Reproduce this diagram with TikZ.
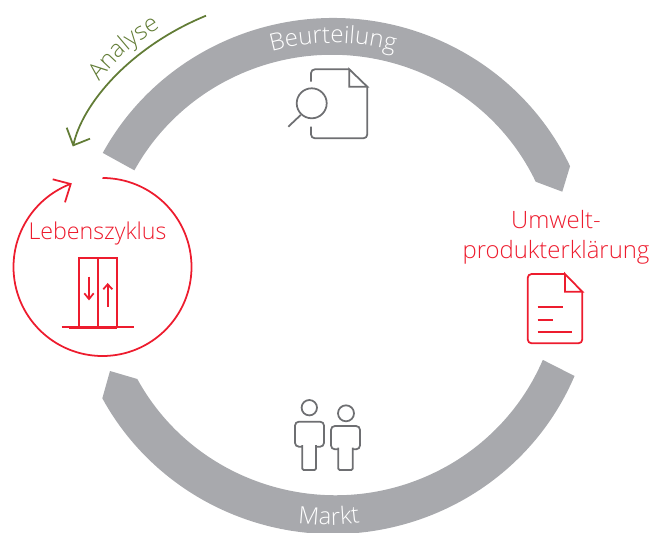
\documentclass[tikz,border=0pt]{standalone}
\usepackage{fontspec}
\setmainfont{Open Sans Light}
\usetikzlibrary{decorations.text}
\definecolor{ringgray}{RGB}{168,169,173}
\definecolor{iconred}{RGB}{237,28,46}
\definecolor{icongray}{RGB}{110,111,114}
\definecolor{leafgreen}{RGB}{98,124,54}
\tikzset{
  redline/.style={draw=iconred, line width=1pt},
  grayline/.style={draw=icongray, line width=1pt, rounded corners=2.2pt},
  redtext/.style={font=\fontsize{13.6}{17}\selectfont, text=iconred, align=center}
}
\begin{document}
\begin{tikzpicture}[x=0.02cm,y=0.02cm]
  \useasboundingbox (0,0) rectangle (649,532);
  \begin{scope}
    \clip (0,0) rectangle (649,532);
    % Upper ring segment
    \fill[ringgray] (333,256) ++(151.5:262 and 258) arc (151.5:25.2:262 and 258)
      -- (562.3,340.3) -- (535.7,350.3)
      arc (25.2:151.5:225 and 221) -- cycle;
    % Lower ring segment
    \fill[ringgray] (333,256) ++(-22.8:262 and 258) arc (-22.8:-151.7:262 and 258)
      -- (110,161) -- (137.3,153)
      arc (-151.7:-22.8:225 and 221) -- cycle;
  \end{scope}

  % Ring labels
  \path[postaction={decorate, decoration={text along path, text align=center,
      text={|\fontsize{13.6}{17}\selectfont\color{white}|Beurteilung}}}]
    (333,256) ++(125:233) arc (125:55:233);
  \path[postaction={decorate, decoration={text along path, text align=center,
      text={|\fontsize{13.6}{17}\selectfont\color{white}|Markt}}}]
    (329,256) ++(-100:249) arc (-100:-80:249);

  % Analyse arrow
  \draw[leafgreen, line width=1pt] (206,516.3) .. controls (130,485) and (82,428) .. (73.3,386.7);
  \draw[leafgreen, line width=1pt] (66.7,404.3) -- (73.3,386.7) -- (90,393.3);
  \path[postaction={decorate, decoration={text along path, text align=center,
      text={|\fontsize{13.6}{17}\selectfont\color{leafgreen}|Analyse}}}]
    (86,431) .. controls (108,468) and (138,494) .. (181,516);

  % Lebenszyklus circle
  \draw[redline] (102.5,354) arc (90:-249:89);
  \draw[redline] (52.7,352.7) -- (70.7,348) -- (65,329.7);
  \node[redtext, font=\fontsize{13.2}{17}\selectfont] (lebenszyklus) at (97.5,299) {Lebenszyklus};

  % Lift icon
  \draw[redline] (79,204.7) rectangle (116.7,273.7);
  \draw[redline] (97.7,204.7) -- (97.7,273.7);
  \draw[redline] (61.7,204.7) -- (134,204.7);
  \draw[redline, line width=1.5pt] (69,204.7) -- (116.7,204.7);
  \draw[redline] (89,255.3) -- (89,233);
  \draw[redline] (84.3,238.7) -- (89,233) -- (93.7,238.7);
  \draw[redline] (107.7,225.3) -- (107.7,247.7);
  \draw[redline] (103.3,242.7) -- (107.7,247.7) -- (112.3,242.7);

  % Umwelt label and sheet
  \node[redtext] (umwelt) at (556,295) {Umwelt-\\produkterklärung};
  \draw[redline, rounded corners=2.2pt] (565,258) -- (527.7,258) -- (527.7,188.7) -- (582.3,188.7) -- (582.3,240.3);
  \draw[redline] (565,258) -- (582.3,240.3) -- (565,240.3) -- cycle;
  \draw[redline] (537.7,225.3) -- (562.7,225.3);
  \draw[redline] (537.7,212.3) -- (553.3,212.3);
  \draw[redline] (537.7,199.7) -- (572.3,199.7);

  % Sheet with magnifier
  \draw[grayline] (311,450.3) -- (311,462.7) -- (349.3,462.7);
  \draw[grayline] (311,405.3) -- (311,393.7) -- (367.3,393.7) -- (367.3,445.3);
  \draw[grayline, rounded corners=0pt] (349.3,462.7) -- (367.3,445.3) -- (349.3,445.3) -- cycle;
  \draw[grayline] (311.7,428.7) circle (15);
  \draw[grayline] (300.7,417) -- (288.3,405.3);

  % People
  \draw[grayline] (309.3,124.3) circle (7.7);
  \draw[grayline] (302.3,85.3) -- (295,85.3) -- (295,110.3) -- (324,110.3) -- (324,85.3) -- (316,85.3);
  \draw[grayline, rounded corners=0.8pt] (302.3,87) -- (302.3,62) -- (316,62) -- (316,87);
  \draw[grayline] (346,118.7) circle (8);
  \draw[grayline] (338.3,82.7) -- (331,82.7) -- (331,106) -- (360,106) -- (360,82.7) -- (352.7,82.7);
  \draw[grayline, rounded corners=0.8pt] (338.3,84.5) -- (338.3,62) -- (352.7,62) -- (352.7,84.5);
\end{tikzpicture}
\end{document}
